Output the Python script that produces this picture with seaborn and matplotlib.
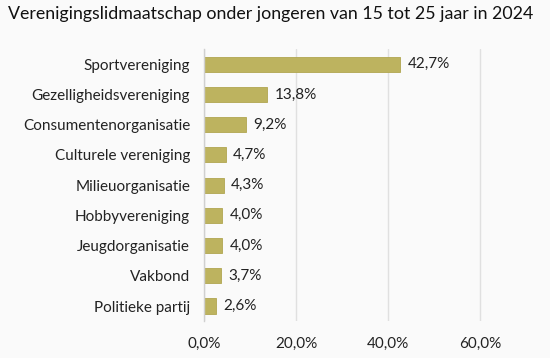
import matplotlib
matplotlib.use("Agg")
import matplotlib.pyplot as plt
import seaborn as sns
import pandas as pd
import numpy as np

categories = ["Sportvereniging", "Gezelligheidsvereniging", "Consumentenorganisatie",
              "Culturele vereniging", "Milieuorganisatie", "Hobbyvereniging",
              "Jeugdorganisatie", "Vakbond", "Politieke partij"]
values = [42.7, 13.8, 9.2, 4.7, 4.3, 4.0, 4.0, 3.7, 2.6]
xticks = [0, 20, 40, 60]
title = "Verenigingslidmaatschap onder jongeren van 15 tot 25 jaar in 2024"

sns.set_theme(style="white")
plt.rcParams['font.family'] = ['Lato', 'DejaVu Sans']

df = pd.DataFrame({"cat": categories, "val": values})
bg = "#fafafa"
fig = plt.figure(figsize=(5.5, 3.58), dpi=100, facecolor=bg)
ax = fig.add_axes([0.371, 0.103, 0.585, 0.76], facecolor=bg)

sns.barplot(data=df, x="val", y="cat", color="#bdb35f", edgecolor="#b0a650",
            linewidth=0.6, width=0.5, saturation=1, ax=ax)

ax.set_xlim(0, 70)
ax.set_xticks(xticks)
ax.set_xticklabels([f"{t:.1f}%".replace(".", ",") for t in xticks], fontsize=11, color="#222222")
ax.tick_params(axis="x", length=0, pad=11)
ax.tick_params(axis="y", length=0, pad=10, labelsize=11, labelcolor="#222222")
ax.set_xlabel("")
ax.set_ylabel("")
ax.grid(axis="x", color="#e0e0e0", linewidth=1)
ax.set_axisbelow(True)
for s in ["top", "right", "bottom"]:
    ax.spines[s].set_visible(False)
ax.spines["left"].set_color("#d0d0d0")
ax.spines["left"].set_linewidth(1)
ax.set_yticks(np.arange(-0.5, len(categories), 1), minor=True)
ax.tick_params(axis="y", which="minor", length=5, color="#d0d0d0", width=1)

for i, v in enumerate(values):
    ax.text(v + 1.6, i, f"{v:.1f}%".replace(".", ","), va="center", ha="left",
            fontsize=11, color="#222222")

fig.text(0.015, 0.962, title, fontsize=12.75, color="#111111", ha="left", va="center")

fig.savefig("out.png", dpi=100, facecolor=bg)
